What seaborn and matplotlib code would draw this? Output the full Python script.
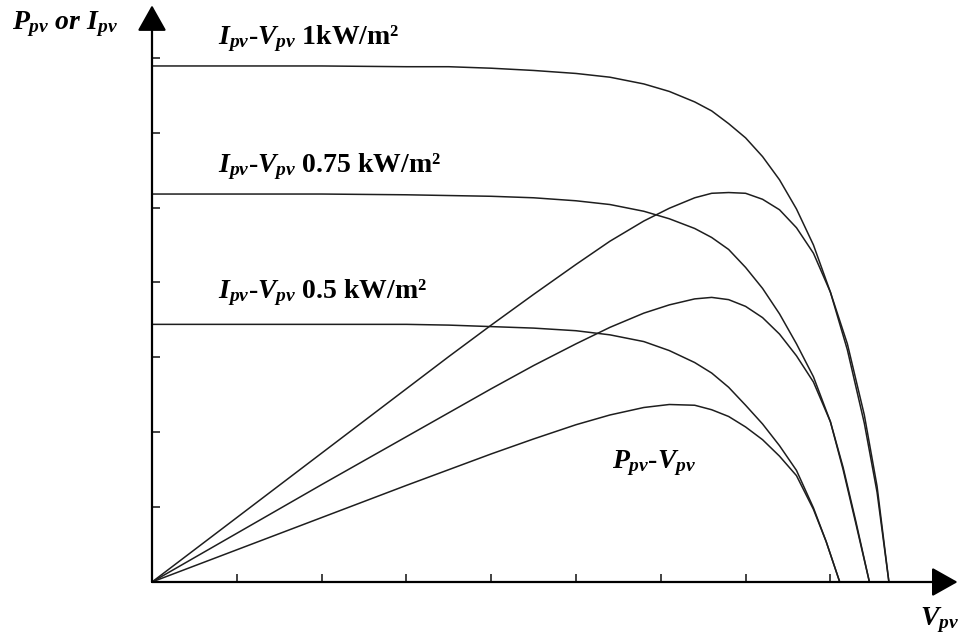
import pandas as pd
import seaborn as sns
import matplotlib.pyplot as plt

# values (x and y in tick units)
v_iv_1000 = [0, 1, 2, 3, 3.5, 4.0, 4.5, 5.0, 5.4, 5.8, 6.1, 6.4, 6.6, 6.8, 7.0, 7.2, 7.4,
             7.6, 7.8, 8.0, 8.2, 8.4, 8.55, 8.69]
i_iv_1000 = [6.89, 6.89, 6.89, 6.88, 6.88, 6.86, 6.83, 6.79, 6.74, 6.65, 6.55, 6.41, 6.29,
             6.12, 5.93, 5.68, 5.37, 4.98, 4.50, 3.87, 3.10, 2.12, 1.20, 0]

v_iv_750 = [0, 1, 2, 3, 3.5, 4.0, 4.5, 5.0, 5.4, 5.8, 6.1, 6.4, 6.6, 6.8, 7.0, 7.2, 7.4,
            7.6, 7.8, 8.0, 8.15, 8.3, 8.46]
i_iv_750 = [5.18, 5.18, 5.18, 5.17, 5.16, 5.15, 5.13, 5.09, 5.04, 4.95, 4.85, 4.72, 4.60,
            4.44, 4.20, 3.92, 3.58, 3.18, 2.74, 2.14, 1.50, 0.78, 0]

v_iv_500 = [0, 1, 2, 3, 3.5, 4.0, 4.5, 5.0, 5.4, 5.8, 6.1, 6.4, 6.6, 6.8, 7.0, 7.2, 7.4,
            7.6, 7.8, 7.95, 8.11]
i_iv_500 = [3.44, 3.44, 3.44, 3.44, 3.43, 3.41, 3.39, 3.355, 3.30, 3.21, 3.09, 2.93, 2.79,
            2.60, 2.36, 2.11, 1.82, 1.49, 0.99, 0.54, 0]

v_pv_1000 = v_iv_1000
p_pv_1000 = [0, 0.86, 1.72, 2.58, 3.01, 3.43, 3.84, 4.24, 4.55, 4.82, 4.99, 5.13, 5.19,
             5.20, 5.19, 5.11, 4.97, 4.73, 4.39, 3.87, 3.18, 2.23, 1.28, 0]

v_pv_750 = v_iv_750
p_pv_750 = [0, 0.65, 1.30, 1.94, 2.26, 2.58, 2.89, 3.18, 3.40, 3.59, 3.70, 3.78, 3.80,
            3.77, 3.68, 3.53, 3.31, 3.02, 2.67, 2.14, 1.53, 0.81, 0]

v_pv_500 = v_iv_500
p_pv_500 = [0, 0.43, 0.86, 1.29, 1.50, 1.71, 1.91, 2.10, 2.23, 2.33, 2.37, 2.36, 2.30,
            2.21, 2.07, 1.90, 1.68, 1.42, 0.97, 0.54, 0]

curves = [(v_iv_1000, i_iv_1000), (v_iv_750, i_iv_750), (v_iv_500, i_iv_500),
          (v_pv_1000, p_pv_1000), (v_pv_750, p_pv_750), (v_pv_500, p_pv_500)]

sns.set_style("white")
plt.rcParams['mathtext.fontset'] = 'custom'
plt.rcParams['mathtext.it'] = 'Liberation Serif:italic:bold'
plt.rcParams['mathtext.rm'] = 'Liberation Serif:bold'
plt.rcParams['mathtext.bf'] = 'Liberation Serif:bold'

fig = plt.figure(figsize=(9.58, 6.41), dpi=100)
ax = fig.add_axes([152 / 958, 59 / 641, 805.6 / 958, 576.7 / 641])

for v, y in curves:
    df = pd.DataFrame({"V": v, "Y": y})
    sns.lineplot(data=df, x="V", y="Y", estimator=None, sort=False, color="#1e1e1e",
                 lw=1.1, ax=ax, clip_on=False)

ax.set_xlim(0, 9.5)
ax.set_ylim(0, 7.7)
for s in ax.spines.values():
    s.set_visible(False)
ax.set_xticks(range(1, 9))
ax.set_yticks(range(1, 8))
ax.tick_params(bottom=True, left=True, direction="in", length=6, width=1.2,
               color="#222222", labelbottom=False, labelleft=False)
ax.set_xlabel("")
ax.set_ylabel("")

arrow = dict(arrowstyle="-|>,head_length=0.8,head_width=0.45", lw=1.6,
             mutation_scale=20, color="black", shrinkA=0, shrinkB=0)
ax.annotate("", xy=(9.5, 0), xytext=(0, 0), arrowprops=arrow, annotation_clip=False)
ax.annotate("", xy=(0, 7.7), xytext=(0, 0), arrowprops=arrow, annotation_clip=False)

font = dict(family="Liberation Serif", weight="bold", fontsize=20, va="center", color="black")
ax.text(0.78, 7.25, r"$I_{pv}$-$V_{pv}$ 1kW/m²", **font)
ax.text(0.78, 5.55, r"$I_{pv}$-$V_{pv}$ 0.75 kW/m²", **font)
ax.text(0.78, 3.86, r"$I_{pv}$-$V_{pv}$ 0.5 kW/m²", **font)
ax.text(5.42, 1.59, r"$P_{pv}$-$V_{pv}$", **font)
ax.text(-1.65, 7.45, r"$P_{pv}$ $or$ $I_{pv}$", **font)
ax.text(9.06, -0.51, r"$V_{pv}$", **font)

fig.savefig("out.png", dpi=100)
